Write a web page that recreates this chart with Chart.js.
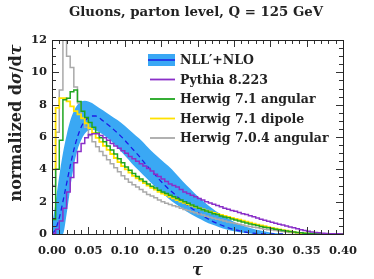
<!DOCTYPE html>
<html>
<head>
<meta charset="utf-8">
<script src="https://cdn.jsdelivr.net/npm/chart.js@4.4.1/dist/chart.umd.min.js"></script>
<style>
html, body { margin: 0; padding: 0; background: #fff; }
</style>
</head>
<body>
<canvas id="chart" width="374" height="279"></canvas>
<script>
// histogram bins of 0.005 in tau, 0 .. 0.4
const binWidth = 0.005;

const pythia = [0.05, 0.3, 0.8, 1.6, 2.6, 3.5, 4.4, 5.1, 5.6, 5.95,
    6.15, 6.2, 6.2, 6.1, 5.95, 5.8, 5.6, 5.45, 5.3, 5.15,
    5.0, 4.8, 4.65, 4.5, 4.35, 4.2, 4.05, 3.9, 3.7, 3.55,
    3.4, 3.25, 3.1, 3.0, 2.9, 2.75, 2.6, 2.5, 2.4, 2.3,
    2.2, 2.1, 2.0, 1.92, 1.84, 1.76, 1.68, 1.6, 1.53, 1.46,
    1.4, 1.33, 1.26, 1.2, 1.13, 1.06, 0.99, 0.92, 0.85, 0.79,
    0.73, 0.67, 0.61, 0.55, 0.49, 0.43, 0.38, 0.32, 0.27, 0.22,
    0.17, 0.13, 0.1, 0.07, 0.05, 0.03, 0.02, 0.01, 0.01, 0];

const herwigAngular = [0.9, 4.0, 5.8, 8.3, 8.4, 8.8, 8.9, 8.2, 7.6, 7.2,
    6.9, 6.6, 6.25, 5.95, 5.7, 5.45, 5.2, 4.95, 4.65, 4.4,
    4.15, 3.95, 3.75, 3.55, 3.4, 3.25, 3.1, 2.95, 2.85, 2.7,
    2.6, 2.5, 2.4, 2.3, 2.2, 2.1, 2.0, 1.9, 1.8, 1.7,
    1.6, 1.5, 1.42, 1.34, 1.26, 1.2, 1.12, 1.05, 1.0, 0.93,
    0.86, 0.8, 0.74, 0.68, 0.62, 0.57, 0.52, 0.47, 0.42, 0.38,
    0.34, 0.3, 0.26, 0.22, 0.18, 0.15, 0.12, 0.09, 0.07, 0.05,
    0.04, 0.03, 0.02, 0.01, 0, 0, 0, 0, 0, 0];

const herwigDipole = [4.0, 7.8, 8.4, 8.4, 8.2, 7.9, 7.6, 7.4, 7.15, 6.85,
    6.55, 6.25, 5.95, 5.7, 5.45, 5.2, 4.95, 4.7, 4.45, 4.2,
    4.0, 3.8, 3.6, 3.45, 3.3, 3.15, 3.0, 2.85, 2.75, 2.6,
    2.5, 2.4, 2.3, 2.2, 2.1, 2.0, 1.92, 1.84, 1.76, 1.68,
    1.6, 1.52, 1.45, 1.38, 1.31, 1.24, 1.18, 1.12, 1.06, 1.0,
    0.94, 0.88, 0.82, 0.76, 0.7, 0.64, 0.58, 0.53, 0.48, 0.43,
    0.38, 0.33, 0.28, 0.24, 0.2, 0.16, 0.12, 0.09, 0.06, 0.04,
    0.02, 0, 0, 0, 0, 0, 0, 0, 0, 0];

const herwig704 = [3.0, 6.3, 8.9, 12.0, 11.0, 10.3, 9.1, 8.1, 7.2, 6.6,
    6.1, 5.7, 5.4, 5.1, 4.85, 4.6, 4.35, 4.1, 3.85, 3.6,
    3.4, 3.2, 3.05, 2.9, 2.75, 2.6, 2.45, 2.35, 2.25, 2.1,
    2.0, 1.9, 1.82, 1.75, 1.68, 1.6, 1.52, 1.45, 1.38, 1.31,
    1.24, 1.17, 1.1, 1.04, 0.98, 0.92, 0.86, 0.8, 0.75, 0.7,
    0.65, 0.6, 0.55, 0.5, 0.46, 0.42, 0.38, 0.34, 0.3, 0.27,
    0.24, 0.21, 0.18, 0.15, 0.12, 0.1, 0.08, 0.06, 0.04, 0.03,
    0.02, 0.01, 0, 0, 0, 0, 0, 0, 0, 0];

// NLL'+NLO resummed curve with its uncertainty band
const nllTau = [0, 0.005, 0.01, 0.015, 0.02, 0.025, 0.03, 0.035, 0.04, 0.045,
    0.05, 0.055, 0.06, 0.07, 0.08, 0.09, 0.10, 0.11, 0.12, 0.13,
    0.14, 0.15, 0.16, 0.17, 0.18, 0.19, 0.20, 0.21, 0.22, 0.23,
    0.24, 0.25, 0.26, 0.27, 0.28, 0.29, 0.30, 0.31, 0.32];
const nllCentral = [0, 0.3, 1.0, 2.0, 3.1, 4.2, 5.2, 6.0, 6.6, 7.0,
    7.2, 7.3, 7.3, 7.0, 6.65, 6.25, 5.8, 5.3, 4.8, 4.25,
    3.75, 3.25, 2.8, 2.4, 2.0, 1.65, 1.35, 1.05, 0.8, 0.6,
    0.42, 0.28, 0.17, 0.09, 0.04, 0.01, 0, 0, 0];
const nllUpper = [0.5, 2.0, 3.6, 5.0, 6.1, 7.0, 7.6, 8.0, 8.2, 8.25,
    8.2, 8.1, 7.95, 7.65, 7.35, 7.05, 6.7, 6.3, 5.9, 5.45,
    5.0, 4.6, 4.2, 3.75, 3.25, 2.8, 2.35, 1.95, 1.6, 1.28,
    1.0, 0.76, 0.55, 0.4, 0.28, 0.18, 0.1, 0.05, 0];
const nllLower = [0, 0, 0, 0, 1.2, 2.8, 4.2, 5.2, 5.8, 6.2,
    6.4, 6.45, 6.4, 6.15, 5.8, 5.35, 4.85, 4.35, 3.9, 3.45,
    3.0, 2.6, 2.2, 1.85, 1.55, 1.25, 1.0, 0.78, 0.58, 0.42,
    0.28, 0.17, 0.09, 0.04, 0, 0, 0, 0, 0];

const xTickLabels = ["0.00", "0.05", "0.10", "0.15", "0.20", "0.25", "0.30", "0.35", "0.40"];
const yTickLabels = ["0", "2", "4", "6", "8", "10", "12"];

const colors = {
    band: "#3aa8f4",
    central: "#1c1ce6",
    pythia: "#8a2fc8",
    angular: "#1fa51f",
    dipole: "#ffe100",
    old: "#a9a9a9"
};

function histPoints(vals) {
    const pts = vals.map((v, i) => ({ x: i * binWidth, y: v }));
    pts.push({ x: vals.length * binWidth, y: vals[vals.length - 1] });
    return pts;
}
function curvePoints(vals) {
    return vals.map((v, i) => ({ x: nllTau[i], y: v }));
}

const serif = "'DejaVu Serif', serif";

const decorPlugin = {
    id: "decor",
    afterDraw(chart) {
        const ctx = chart.ctx;
        const xs = chart.scales.x, ys = chart.scales.y;
        const { left, right, top, bottom } = chart.chartArea;
        ctx.save();

        // inward ticks on all four sides
        ctx.strokeStyle = "#333";
        ctx.lineWidth = 1;
        ctx.beginPath();
        for (let i = 0; i <= 40; i++) {
            const px = Math.round(xs.getPixelForValue(i * 0.01)) + 0.5;
            const len = i % 5 === 0 ? 7 : 4;
            ctx.moveTo(px, bottom); ctx.lineTo(px, bottom - len);
            ctx.moveTo(px, top); ctx.lineTo(px, top + len);
        }
        for (let i = 0; i <= 24; i++) {
            const py = Math.round(ys.getPixelForValue(i * 0.5)) + 0.5;
            const len = i % 4 === 0 ? 7 : 4;
            ctx.moveTo(left, py); ctx.lineTo(left + len, py);
            ctx.moveTo(right, py); ctx.lineTo(right - len, py);
        }
        ctx.stroke();
        ctx.strokeStyle = "#222";
        ctx.strokeRect(Math.round(left) + 0.5, Math.round(top) + 0.5,
            Math.round(right - left), Math.round(bottom - top));

        // title
        ctx.fillStyle = "#222";
        ctx.font = "bold 13.3px " + serif;
        ctx.textAlign = "center";
        ctx.textBaseline = "middle";
        ctx.fillText("Gluons, parton level, Q = 125 GeV", 196, 13);

        // x axis title
        ctx.font = "italic bold 16px " + serif;
        ctx.fillText("\u03c4", (left + right) / 2, 271);

        // y axis title, rotated, with italic sigma and tau
        const parts = [
            ["normalized d", "bold 16px " + serif],
            ["\u03c3", "italic bold 16px " + serif],
            ["/d", "bold 16px " + serif],
            ["\u03c4", "italic bold 16px " + serif]
        ];
        let total = 0;
        parts.forEach(p => { ctx.font = p[1]; total += ctx.measureText(p[0]).width; });
        ctx.translate(17, 123);
        ctx.rotate(-Math.PI / 2);
        ctx.textAlign = "left";
        let cx = -total / 2;
        parts.forEach(p => {
            ctx.font = p[1];
            ctx.fillText(p[0], cx, 0);
            cx += ctx.measureText(p[0]).width;
        });
        ctx.restore();

        // legend
        ctx.save();
        const items = [
            { label: "NLL\u2032+NLO", color: colors.central, band: true },
            { label: "Pythia 8.223", color: colors.pythia },
            { label: "Herwig 7.1 angular", color: colors.angular },
            { label: "Herwig 7.1 dipole", color: colors.dipole },
            { label: "Herwig 7.0.4 angular", color: colors.old }
        ];
        ctx.font = "bold 12.5px " + serif;
        ctx.textBaseline = "middle";
        ctx.textAlign = "left";
        items.forEach((it, k) => {
            const y = 60 + k * 19.5;
            if (it.band) {
                ctx.fillStyle = colors.band;
                ctx.fillRect(148, y - 6, 27, 12);
            }
            ctx.strokeStyle = it.color;
            ctx.lineWidth = it.band ? 1.5 : 1.8;
            ctx.beginPath();
            ctx.moveTo(it.band ? 148 : 150, y);
            ctx.lineTo(175, y);
            ctx.stroke();
            ctx.fillStyle = "#222";
            ctx.fillText(it.label, 180, y + 1);
        });
        ctx.restore();
    }
};

new Chart(document.getElementById("chart").getContext("2d"), {
    type: "line",
    data: {
        datasets: [
            {
                label: "Pythia 8.223",
                data: histPoints(pythia),
                stepped: true,
                borderColor: colors.pythia,
                borderWidth: 1.5,
                pointRadius: 0,
                fill: false,
                order: 1
            },
            {
                label: "Herwig 7.1 angular",
                data: histPoints(herwigAngular),
                stepped: true,
                borderColor: colors.angular,
                borderWidth: 1.5,
                pointRadius: 0,
                fill: false,
                order: 2
            },
            {
                label: "Herwig 7.1 dipole",
                data: histPoints(herwigDipole),
                stepped: true,
                borderColor: colors.dipole,
                borderWidth: 1.8,
                pointRadius: 0,
                fill: false,
                order: 3
            },
            {
                label: "Herwig 7.0.4 angular",
                data: histPoints(herwig704),
                stepped: true,
                borderColor: colors.old,
                borderWidth: 1.5,
                pointRadius: 0,
                fill: false,
                order: 4
            },
            {
                label: "NLL'+NLO",
                data: curvePoints(nllCentral),
                borderColor: colors.central,
                borderWidth: 1.3,
                borderDash: [5, 3.5],
                pointRadius: 0,
                cubicInterpolationMode: "monotone",
                fill: false,
                order: 5
            },
            {
                label: "upper",
                data: curvePoints(nllUpper),
                borderWidth: 0,
                borderColor: "rgba(0,0,0,0)",
                backgroundColor: colors.band,
                pointRadius: 0,
                cubicInterpolationMode: "monotone",
                fill: 6,
                order: 6
            },
            {
                label: "lower",
                data: curvePoints(nllLower),
                borderWidth: 0,
                borderColor: "rgba(0,0,0,0)",
                pointRadius: 0,
                cubicInterpolationMode: "monotone",
                fill: false,
                order: 7
            }
        ]
    },
    options: {
        responsive: false,
        animation: false,
        devicePixelRatio: 1,
        layout: { padding: { top: 40, right: 31, left: 0, bottom: 0 } },
        plugins: {
            legend: { display: false },
            tooltip: { enabled: false },
            title: { display: false }
        },
        scales: {
            x: {
                type: "linear",
                min: 0,
                max: 0.4,
                grid: { display: false, drawTicks: false },
                border: { display: false },
                afterFit: s => { s.height = 45; },
                afterBuildTicks: s => { s.ticks = xTickLabels.map(t => ({ value: parseFloat(t) })); },
                ticks: {
                    padding: 10,
                    maxRotation: 0,
                    autoSkip: false,
                    color: "#222",
                    font: { family: serif, weight: "bold", size: 11.5 },
                    callback: (v, i) => xTickLabels[i]
                }
            },
            y: {
                type: "linear",
                min: 0,
                max: 12,
                grid: { display: false, drawTicks: false },
                border: { display: false },
                afterFit: s => { s.width = 52; },
                afterBuildTicks: s => { s.ticks = yTickLabels.map(t => ({ value: parseFloat(t) })); },
                ticks: {
                    padding: 5,
                    autoSkip: false,
                    color: "#222",
                    font: { family: serif, weight: "bold", size: 11.5 },
                    callback: (v, i) => yTickLabels[i]
                }
            }
        }
    },
    plugins: [decorPlugin]
});
</script>
</body>
</html>
